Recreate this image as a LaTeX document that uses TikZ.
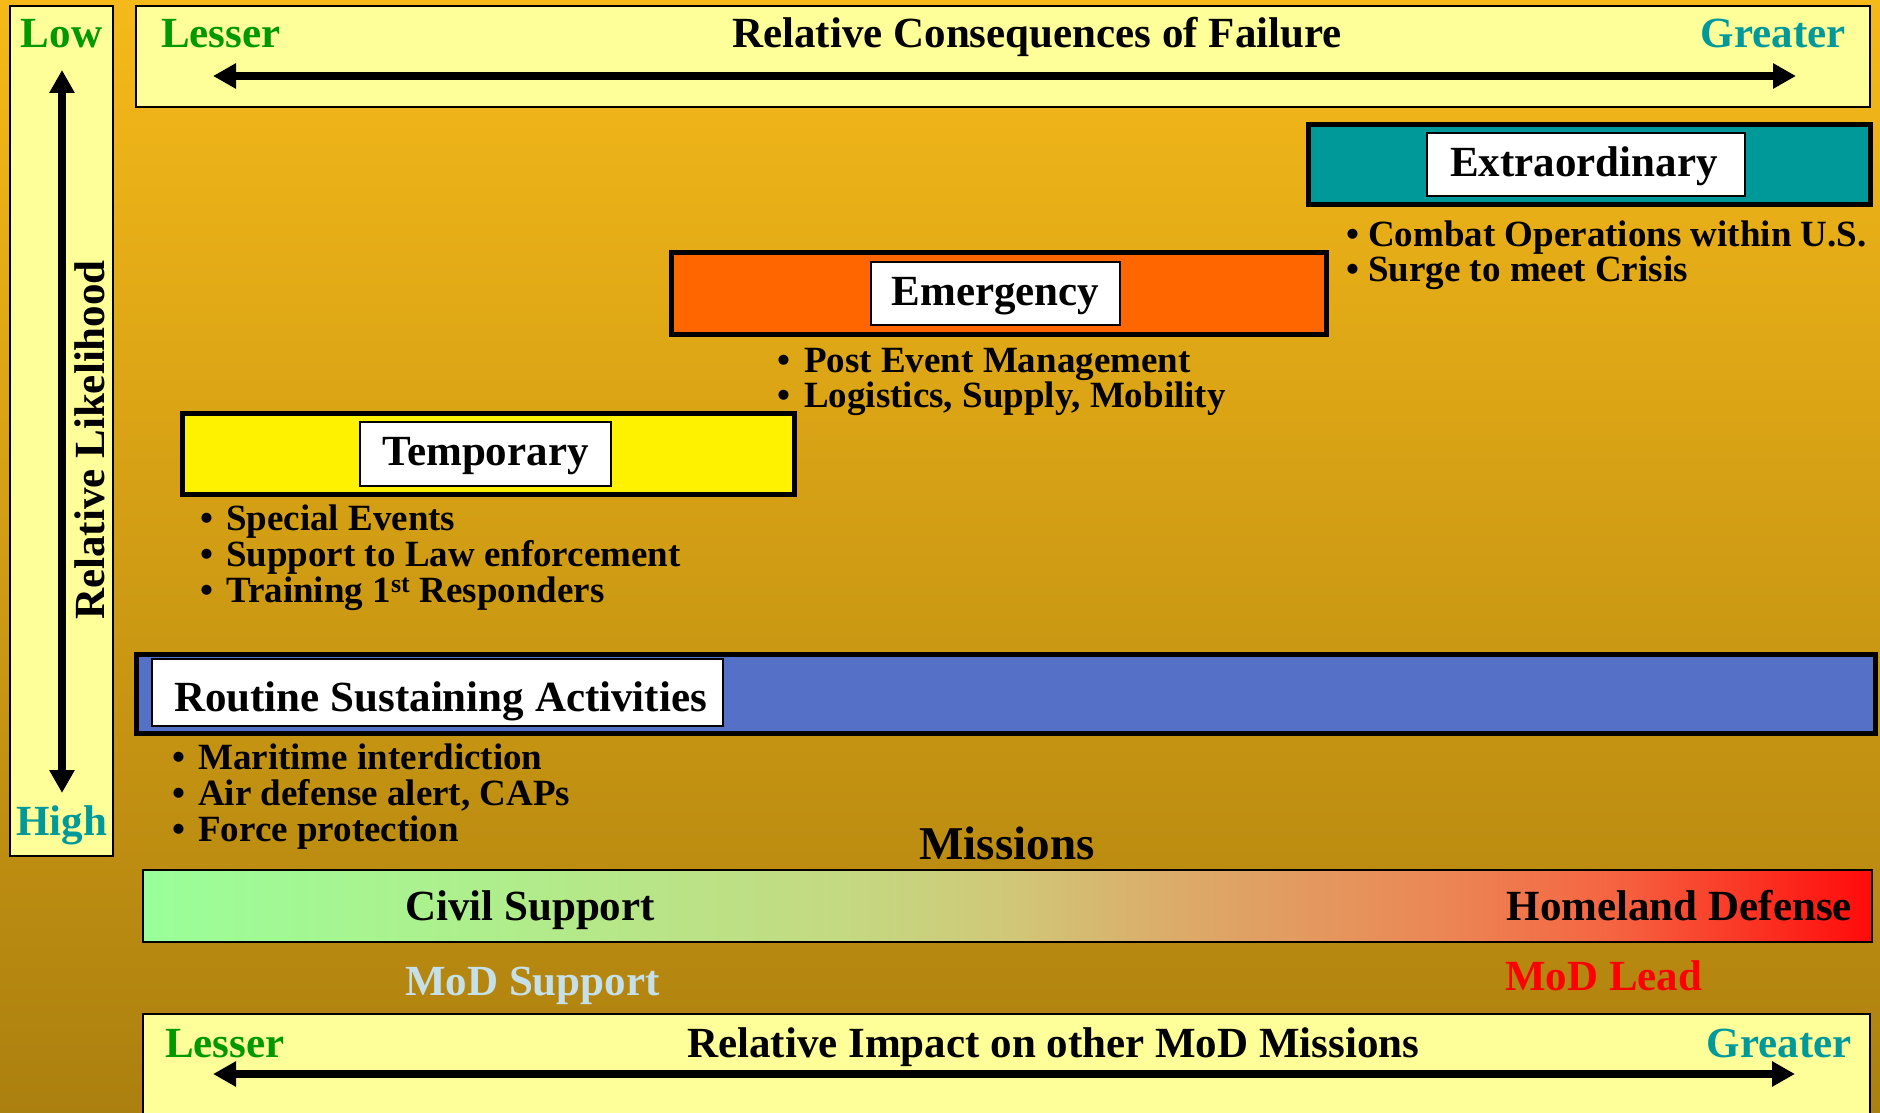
\documentclass[tikz,border=0pt]{standalone}
\usepackage{fontspec}
\setmainfont{Liberation Serif}
\usetikzlibrary{arrows.meta}
\definecolor{paleY}{RGB}{255,255,153}
\definecolor{grn}{RGB}{0,153,0}
\definecolor{tealC}{RGB}{0,153,153}
\definecolor{orng}{RGB}{255,102,0}
\definecolor{blu}{RGB}{85,113,199}
\definecolor{bgtop}{RGB}{245,185,25}
\definecolor{bgbot}{RGB}{172,128,15}
\definecolor{modsup}{RGB}{197,224,232}
\pgfdeclarehorizontalshading{misshade}{100bp}{%
  rgb(0bp)=(0.6,1,0.6);
  rgb(25bp)=(0.6,1,0.6);
  rgb(35bp)=(0.686,0.933,0.549);
  rgb(45bp)=(0.765,0.855,0.51);
  rgb(50bp)=(0.816,0.784,0.471);
  rgb(55bp)=(0.863,0.667,0.412);
  rgb(62.5bp)=(0.922,0.529,0.333);
  rgb(67.5bp)=(0.961,0.392,0.255);
  rgb(75bp)=(1,0.04,0.04);
  rgb(100bp)=(1,0.04,0.04)}
\begin{document}
\begin{tikzpicture}[x=1pt,y=-1pt,
  axisbox/.style={draw=black, line width=2pt, fill=paleY, inner sep=0pt},
  levelbox/.style={draw=black, line width=5pt, inner sep=0pt},
  labelbox/.style={draw=black, line width=2pt, fill=white, inner sep=0pt},
  big/.style={font=\fontsize{43}{43}\selectfont\bfseries, inner sep=0pt},
  bul/.style={font=\fontsize{37}{37}\selectfont\bfseries, inner sep=0pt, anchor=base west},
  axarrow/.style={line width=8pt, {Triangle[length=23pt,width=24pt]}-{Triangle[length=23pt,width=24pt]}},
]
\useasboundingbox (0,0) rectangle (1880,1113);
\shade[top color=bgtop, bottom color=bgbot] (0,0) rectangle (1880,1113);

% left axis
\node[axisbox, minimum width=103, minimum height=850] (lbox) at (61.5,431) {};
\node[big, text=grn, anchor=base] (low) at (61.5,48) {Low};
\node[big, text=tealC, anchor=base] (high) at (61.5,835) {High};
\node[big, rotate=90, anchor=center] (rl) at (90,440) {Relative Likelihood};
\coordinate (vtop) at (62,70);
\coordinate (vbot) at (62,793);
\draw[axarrow] (vtop) -- (vbot);

% top axis
\node[axisbox, minimum width=1734, minimum height=101] (tbox) at (1003,56.5) {};
\node[big, text=grn, anchor=base west] (tlesser) at (161,48) {Lesser};
\node[big, anchor=base] (ttitle) at (1037,48) {Relative Consequences of Failure};
\node[big, text=tealC, anchor=base east] (tgreater) at (1846,48) {Greater};
\coordinate (tl) at (213,76);
\coordinate (tr) at (1796,76);
\draw[axarrow] (tl) -- (tr);

% Extraordinary
\node[levelbox, fill=tealC, minimum width=562, minimum height=80] (exbox) at (1589,164.5) {};
\node[labelbox, minimum width=318, minimum height=63] (exlab) at (1586,164.5) {};
\node[big, anchor=base] (extxt) at (1584,177) {Extraordinary};
\node[bul] (ex1) at (1346,246) {\makebox[22pt][l]{\textbullet}Combat Operations within U.S.};
\node[bul] (ex2) at (1346,281) {\makebox[22pt][l]{\textbullet}Surge to meet Crisis};

% Emergency
\node[levelbox, fill=orng, minimum width=655, minimum height=82] (embox) at (998.5,293.5) {};
\node[labelbox, minimum width=249, minimum height=63] (emlab) at (995.5,293.5) {};
\node[big, anchor=base] (emtxt) at (995.5,305) {Emergency};
\node[bul] (em1) at (777,372) {\makebox[27pt][l]{\textbullet}Post Event Management};
\node[bul] (em2) at (777,407) {\makebox[27pt][l]{\textbullet}Logistics, Supply, Mobility};

% Temporary
\node[levelbox, fill=yellow, minimum width=612, minimum height=81] (tpbox) at (488.5,454) {};
\node[labelbox, minimum width=251, minimum height=64] (tplab) at (485.5,454) {};
\node[big, anchor=base] (tptxt) at (485.5,465) {Temporary};
\node[bul] (tp1) at (200,530) {\makebox[26pt][l]{\textbullet}Special Events};
\node[bul] (tp2) at (200,566) {\makebox[26pt][l]{\textbullet}Support to Law enforcement};
\node[bul] (tp3) at (200,602) {\makebox[26pt][l]{\textbullet}Training 1\textsuperscript{st} Responders};

% Routine
\node[levelbox, fill=blu, minimum width=1739, minimum height=79] (rtbox) at (1006,694) {};
\node[labelbox, minimum width=571, minimum height=67] (rtlab) at (437.5,692.5) {};
\node[big, anchor=base west] (rttxt) at (174,711) {Routine Sustaining Activities};
\node[bul] (rt1) at (172,769) {\makebox[26pt][l]{\textbullet}Maritime interdiction};
\node[bul] (rt2) at (172,805) {\makebox[26pt][l]{\textbullet}Air defense alert, CAPs};
\node[bul] (rt3) at (172,841) {\makebox[26pt][l]{\textbullet}Force protection};

% Missions
\node[font=\fontsize{47}{47}\selectfont\bfseries, inner sep=0pt, anchor=base] (mis) at (1007,859) {Missions};
\node[draw=black, line width=2.5pt, inner sep=0pt, shading=misshade,
      minimum width=1729, minimum height=72] (gbar) at (1007.5,906) {};
\node[big, anchor=base west] (civil) at (405,920) {Civil Support};
\node[big, anchor=base east] (hd) at (1852,920) {Homeland Defense};
\node[big, text=modsup, anchor=base west] (modsup) at (405,995) {MoD Support};
\node[big, text=red, anchor=base west] (modlead) at (1505,990) {MoD Lead};

% bottom axis
\node[axisbox, minimum width=1727, minimum height=111] (bbox) at (1006.5,1069.5) {};
\node[big, text=grn, anchor=base west] (blesser) at (165,1057) {Lesser};
\node[big, anchor=base west] (btitle) at (687,1057) {Relative Impact on other MoD Missions};
\node[big, text=tealC, anchor=base east] (bgreater) at (1852,1057) {Greater};
\coordinate (bl) at (213,1074);
\coordinate (br) at (1795,1074);
\draw[axarrow] (bl) -- (br);
\end{tikzpicture}
\end{document}
